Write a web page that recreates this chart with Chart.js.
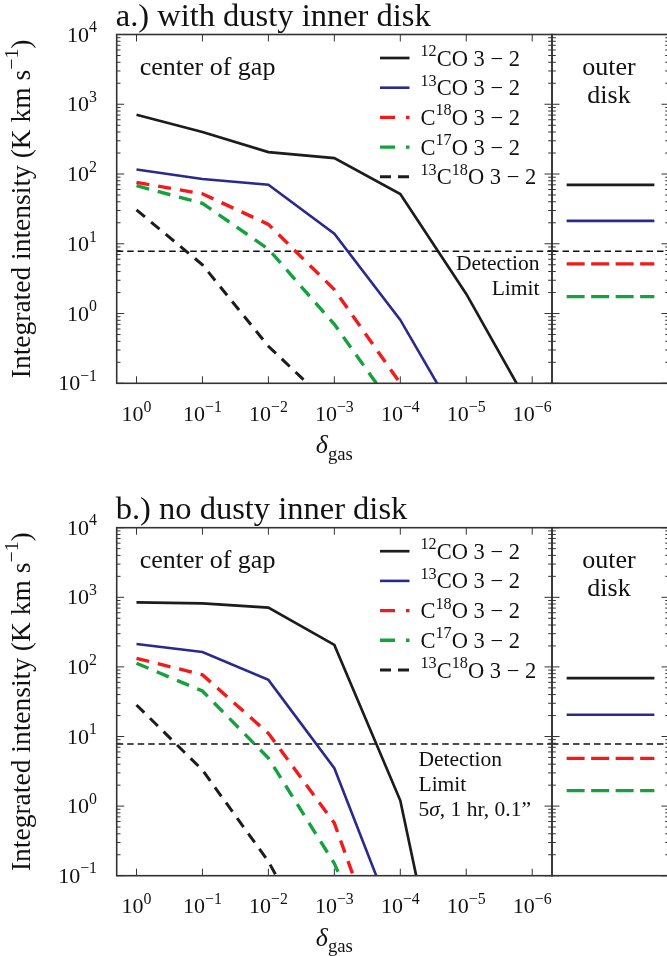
<!DOCTYPE html>
<html><head><meta charset="utf-8">
<script src="https://cdn.jsdelivr.net/npm/chart.js@4.4.1/dist/chart.umd.min.js"></script>
<style>
html,body{margin:0;padding:0;background:#fff;overflow:hidden;width:667px;height:956px;}
canvas{position:absolute;}
</style></head><body>
<canvas id="aMain" width="560" height="478" style="left:0;top:0"></canvas>
<canvas id="aOut" width="140" height="478" style="left:540px;top:0"></canvas>
<canvas id="bMain" width="560" height="478" style="left:0;top:478px"></canvas>
<canvas id="bOut" width="140" height="478" style="left:540px;top:478px"></canvas>
<script>
// x = -log10(delta_gas): 0 -> 10^0, 1 -> 10^-1, ...
const xExp = [0, 1, 2, 3, 4, 5, 6];
const xTickLabels = ['0', '−1', '−2', '−3', '−4', '−5', '−6'];
const yTickVals = [0.1, 1, 10, 100, 1000, 10000];
const yTickLabels = ['−1', '0', '1', '2', '3', '4'];

// Panel a: with dusty inner disk (center of gap)
const a_12CO   = [706, 400, 206, 169, 51.5, 1.91, 0.04];
const a_13CO   = [116, 85, 70, 14, 0.81, 0.019];
const a_C18O   = [76, 52, 19, 2.2, 0.1];
const a_C17O   = [68, 38, 8.4, 0.7, 0.033];
const a_13C18O = [30.6, 5.0, 0.34, 0.043];
// Panel b: no dusty inner disk (center of gap)
const b_12CO   = [847, 820, 710, 207, 1.2, 0.00004];
const b_13CO   = [213, 164, 65, 3.5, 0.013];
const b_C18O   = [133, 77, 11.1, 0.57, 0.0013];
const b_C17O   = [113, 45, 4.9, 0.15, 0.001];
const b_13C18O = [28.4, 3.3, 0.16, 0.003];
// Outer disk values: 12CO, 13CO, C18O, C17O
const outerA = [70, 21.3, 5.15, 1.75];
const outerB = [69, 20.5, 4.85, 1.67];
const detectionLimit = 7.8;

const seriesNames = ['12CO 3-2', '13CO 3-2', 'C18O 3-2', 'C17O 3-2', '13C18O 3-2'];
const legendLabels = [
  [['12',1],['CO 3 − 2',0]],
  [['13',1],['CO 3 − 2',0]],
  [['C',0],['18',1],['O 3 − 2',0]],
  [['C',0],['17',1],['O 3 − 2',0]],
  [['13',1],['C',0],['18',1],['O 3 − 2',0]]
];
const colors = ['#1c1c1c', '#2b2a8c', '#f21a1a', '#16a13f', '#1c1c1c'];
const widths = [2.7, 2.6, 3.4, 3.4, 3.0];
const dashes = [[], [], [13, 9], [13, 9], [11, 8]];
const outerDashes = [[], [], [18, 6.5], [18, 6.5]];

const FAM = '"Liberation Serif", "DejaVu Serif", serif';
const AXC = '#333';
const SUP = 0.72;

function richWidth(ctx, segs, size) {
  let w = 0;
  for (const [t, m] of segs) {
    const s = (m === 1 || m === 2) ? size * SUP : size;
    ctx.font = (m === 3 ? 'italic ' : '') + s + 'px ' + FAM;
    w += ctx.measureText(t).width;
  }
  return w;
}
function drawRich(ctx, segs, x, y, size, align) {
  const w = richWidth(ctx, segs, size);
  let cx = align === 'center' ? x - w / 2 : (align === 'right' ? x - w : x);
  ctx.textAlign = 'left';
  ctx.textBaseline = 'alphabetic';
  for (const [t, m] of segs) {
    const s = (m === 1 || m === 2) ? size * SUP : size;
    ctx.font = (m === 3 ? 'italic ' : '') + s + 'px ' + FAM;
    let dy = 0;
    if (m === 1) dy = -size * 0.42;
    if (m === 2) dy = size * 0.25;
    ctx.fillText(t, cx, y + dy);
    cx += ctx.measureText(t).width;
  }
}
function seg(ctx, x1, y1, x2, y2) {
  ctx.beginPath(); ctx.moveTo(x1, y1); ctx.lineTo(x2, y2); ctx.stroke();
}
function yTicks(ctx, ys, x, dir) {
  ctx.lineWidth = 1;
  ctx.strokeStyle = AXC;
  for (let e = -1; e <= 4; e++) {
    for (let m = 1; m < 10; m++) {
      const v = m * Math.pow(10, e);
      if (v > 10000 + 1e-9) break;
      const py = ys.getPixelForValue(v);
      const L = m === 1 ? 7.5 : 3.8;
      seg(ctx, x, py, x + dir * L, py);
    }
  }
}

function mainPlugin(p) {
  return {
    id: 'decor',
    afterDraw(chart) {
      const ctx = chart.ctx;
      const { left, right, top, bottom } = chart.chartArea;
      const xs = chart.scales.x, ys = chart.scales.y;
      ctx.save();
      ctx.fillStyle = '#111';
      // frame
      ctx.strokeStyle = AXC; ctx.lineWidth = 1.6; ctx.setLineDash([]);
      ctx.strokeRect(left, top, right - left, bottom - top);
      // x ticks (top & bottom, inward)
      ctx.lineWidth = 1;
      xExp.forEach(v => {
        const px = xs.getPixelForValue(v);
        seg(ctx, px, bottom, px, bottom - 7);
        seg(ctx, px, top, px, top + 7);
      });
      yTicks(ctx, ys, left, 1);
      yTicks(ctx, ys, right, -1);
      // x tick labels
      xExp.forEach((v, i) => {
        drawRich(ctx, [['10', 0], [xTickLabels[i], 1]], xs.getPixelForValue(v), bottom + 37.7, 22, 'center');
      });
      // y tick labels
      yTickVals.forEach((v, i) => {
        drawRich(ctx, [['10', 0], [yTickLabels[i], 1]], 97, ys.getPixelForValue(v) + 7, 22, 'right');
      });
      // title
      drawRich(ctx, [[p.title, 0]], left - 1, top - 9, 32.5, 'left');
      // y label
      ctx.save();
      ctx.translate(30, (top + bottom) / 2);
      ctx.rotate(-Math.PI / 2);
      drawRich(ctx, [['Integrated intensity (K km s', 0], ['−1', 1], [')', 0]], 0, 0, 27.5, 'center');
      ctx.restore();
      // x label
      drawRich(ctx, [['δ', 3], ['gas', 2]], (left + right) / 2, bottom + 70, 26, 'center');
      // center of gap
      drawRich(ctx, [['center of gap', 0]], left + 23, top + 40.5, 26, 'left');
      // legend
      for (let i = 0; i < 5; i++) {
        const ly = top + 23.5 + i * 29.7;
        ctx.strokeStyle = colors[i]; ctx.lineWidth = widths[i];
        ctx.setLineDash(i >= 2 ? (i === 4 ? [11, 7] : [15, 11]) : []);
        seg(ctx, 380, ly, 409.5, ly);
        ctx.setLineDash([]);
        drawRich(ctx, legendLabels[i], 420.5, ly + 7.5, 22.5, 'left');
      }
      // detection limit text
      const dy = ys.getPixelForValue(detectionLimit);
      if (p.panel === 'a') {
        drawRich(ctx, [['Detection', 0]], 539.5, dy + 19, 21.5, 'right');
        drawRich(ctx, [['Limit', 0]], 539.5, dy + 44, 21.5, 'right');
      } else {
        drawRich(ctx, [['Detection', 0]], 418.5, dy + 22, 21.5, 'left');
        drawRich(ctx, [['Limit', 0]], 418.5, dy + 46.5, 21.5, 'left');
        drawRich(ctx, [['5', 0], ['σ', 3], [', 1 hr, 0.1”', 0]], 418.5, dy + 71.5, 21.5, 'left');
      }
      ctx.restore();
    }
  };
}

function outerPlugin() {
  return {
    id: 'decorOut',
    afterDraw(chart) {
      const ctx = chart.ctx;
      const { left, right, top, bottom } = chart.chartArea;
      const ys = chart.scales.y;
      ctx.save();
      ctx.strokeStyle = AXC; ctx.lineWidth = 1.6; ctx.setLineDash([]);
      ctx.strokeRect(left, top, right - left, bottom - top);
      yTicks(ctx, ys, left, 1);
      yTicks(ctx, ys, right, -1);
      ctx.fillStyle = '#111';
      const cx = (left + right) / 2 - 1.5;
      drawRich(ctx, [['outer', 0]], cx, top + 40, 26, 'center');
      drawRich(ctx, [['disk', 0]], cx, top + 68.5, 26, 'center');
      ctx.restore();
    }
  };
}

function makeMain(id, series, p) {
  const datasets = series.map((vals, i) => ({
    label: seriesNames[i],
    data: vals.map((v, j) => ({ x: xExp[j], y: v })),
    borderColor: colors[i], borderWidth: widths[i], borderDash: dashes[i],
    pointRadius: 0, tension: 0, fill: false
  }));
  datasets.push({
    label: 'Detection limit',
    data: [{ x: -0.3, y: detectionLimit }, { x: 6.3, y: detectionLimit }],
    borderColor: '#111', borderWidth: 1.4, borderDash: [6.5, 4], pointRadius: 0
  });
  new Chart(document.getElementById(id), {
    type: 'line',
    data: { datasets },
    options: {
      responsive: false, animation: false, devicePixelRatio: 1,
      layout: { padding: p.pad },
      plugins: { legend: { display: false }, tooltip: { enabled: false }, title: { display: false } },
      scales: {
        x: { type: 'linear', min: -0.3, max: 6.3, display: false },
        y: { type: 'logarithmic', min: 0.1, max: 10000, display: false }
      }
    },
    plugins: [mainPlugin(p)]
  });
}

function makeOuter(id, vals, pad) {
  const datasets = vals.map((v, i) => ({
    label: seriesNames[i] + ' outer',
    data: [{ x: 0.125, y: v }, { x: 0.875, y: v }],
    borderColor: colors[i], borderWidth: widths[i], borderDash: outerDashes[i],
    pointRadius: 0
  }));
  datasets.push({
    label: 'Detection limit',
    data: [{ x: 0, y: detectionLimit }, { x: 1, y: detectionLimit }],
    borderColor: '#111', borderWidth: 1.4, borderDash: [6.5, 4], pointRadius: 0
  });
  new Chart(document.getElementById(id), {
    type: 'line',
    data: { datasets },
    options: {
      responsive: false, animation: false, devicePixelRatio: 1,
      layout: { padding: pad },
      plugins: { legend: { display: false }, tooltip: { enabled: false } },
      scales: {
        x: { type: 'linear', min: 0, max: 1, display: false },
        y: { type: 'logarithmic', min: 0.1, max: 10000, display: false }
      }
    },
    plugins: [outerPlugin()]
  });
}

makeMain('aMain', [a_12CO, a_13CO, a_C18O, a_C17O, a_13C18O],
  { panel: 'a', title: 'a.) with dusty inner disk', pad: { left: 116.7, right: 8, top: 34.5, bottom: 94.7 } });
makeOuter('aOut', outerA, { left: 12, right: 11, top: 34.5, bottom: 94.7 });
makeMain('bMain', [b_12CO, b_13CO, b_C18O, b_C17O, b_13C18O],
  { panel: 'b', title: 'b.) no dusty inner disk', pad: { left: 116.7, right: 8, top: 49.7, bottom: 80.3 } });
makeOuter('bOut', outerB, { left: 12, right: 11, top: 49.7, bottom: 80.3 });
</script>
</body></html>
